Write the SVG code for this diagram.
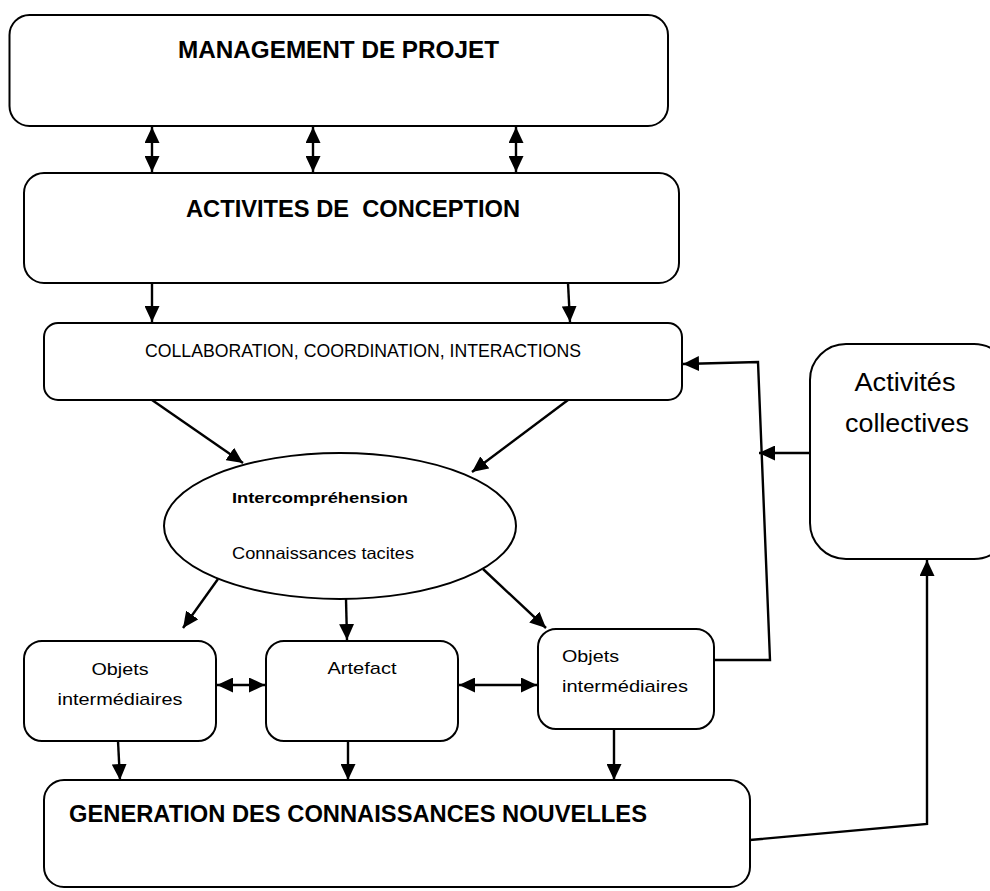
<svg xmlns="http://www.w3.org/2000/svg" width="990" height="891" viewBox="0 0 990 891">
<style>
.box{fill:#fff;stroke:#000;stroke-width:2}
.c{fill:none;stroke:#000;stroke-width:2.4}
.t{font-family:"Liberation Sans",Arial,sans-serif;fill:#000}
.b{font-weight:bold}
</style>
<defs>
<marker id="ah" viewBox="0 0 10 10" refX="10" refY="5" markerWidth="16" markerHeight="15" markerUnits="userSpaceOnUse" orient="auto-start-reverse" preserveAspectRatio="none">
<path d="M0,0 L10,5 L0,10 z" fill="#000"/>
</marker>
</defs>
<rect width="990" height="891" fill="#fff"/>

<g id="management">
<rect class="box" x="9.5" y="15" width="658.5" height="111" rx="20"/>
<text class="t b" x="178" y="58" font-size="23" textLength="321" lengthAdjust="spacingAndGlyphs">MANAGEMENT DE PROJET</text>
</g>

<g id="activites-conception">
<rect class="box" x="24" y="173" width="655" height="110" rx="20"/>
<text class="t b" x="186" y="217" font-size="23" textLength="334" lengthAdjust="spacingAndGlyphs" xml:space="preserve">ACTIVITES DE  CONCEPTION</text>
</g>

<g id="collaboration">
<rect class="box" x="44" y="323" width="638" height="77" rx="14"/>
<text class="t" x="145" y="357" font-size="18" textLength="436" lengthAdjust="spacingAndGlyphs">COLLABORATION, COORDINATION, INTERACTIONS</text>
</g>

<g id="activites-collectives">
<rect class="box" x="810" y="344" width="200" height="215" rx="36"/>
<text class="t" x="905" y="391" font-size="25" text-anchor="middle" textLength="101" lengthAdjust="spacingAndGlyphs">Activités</text>
<text class="t" x="907" y="432" font-size="25" text-anchor="middle" textLength="124" lengthAdjust="spacingAndGlyphs">collectives</text>
</g>

<g id="intercomprehension">
<ellipse class="box" cx="340" cy="526" rx="176" ry="73"/>
<text class="t b" x="232" y="503" font-size="15.5" textLength="176" lengthAdjust="spacingAndGlyphs">Intercompréhension</text>
<text class="t" x="232" y="559" font-size="16.5" textLength="182" lengthAdjust="spacingAndGlyphs">Connaissances tacites</text>
</g>

<g id="objets-gauche">
<rect class="box" x="24" y="641" width="192" height="100" rx="18"/>
<text class="t" x="120" y="675" font-size="17" text-anchor="middle" textLength="57" lengthAdjust="spacingAndGlyphs">Objets</text>
<text class="t" x="120" y="705" font-size="17" text-anchor="middle" textLength="125" lengthAdjust="spacingAndGlyphs">intermédiaires</text>
</g>

<g id="artefact">
<rect class="box" x="266" y="641" width="192" height="100" rx="18"/>
<text class="t" x="362" y="674" font-size="17" text-anchor="middle" textLength="69" lengthAdjust="spacingAndGlyphs">Artefact</text>
</g>

<g id="objets-droite">
<rect class="box" x="538" y="629" width="176" height="100" rx="18"/>
<text class="t" x="562" y="662" font-size="17" textLength="57" lengthAdjust="spacingAndGlyphs">Objets</text>
<text class="t" x="562" y="692" font-size="17" textLength="126" lengthAdjust="spacingAndGlyphs">intermédiaires</text>
</g>

<g id="generation">
<rect class="box" x="44" y="780" width="706" height="107" rx="20"/>
<text class="t b" x="69" y="822" font-size="23" textLength="578" lengthAdjust="spacingAndGlyphs">GENERATION DES CONNAISSANCES NOUVELLES</text>
</g>

<g id="connectors">
<line class="c" x1="152" y1="127" x2="152" y2="172" marker-start="url(#ah)" marker-end="url(#ah)"/>
<line class="c" x1="313" y1="127" x2="313" y2="172" marker-start="url(#ah)" marker-end="url(#ah)"/>
<line class="c" x1="516" y1="127" x2="516" y2="172" marker-start="url(#ah)" marker-end="url(#ah)"/>
<line class="c" x1="152" y1="283" x2="152" y2="322" marker-end="url(#ah)"/>
<line class="c" x1="568" y1="283" x2="570" y2="322" marker-end="url(#ah)"/>
<line class="c" x1="152" y1="400" x2="243" y2="463" marker-end="url(#ah)"/>
<line class="c" x1="568" y1="400" x2="472" y2="472" marker-end="url(#ah)"/>
<line class="c" x1="218" y1="579" x2="183" y2="628" marker-end="url(#ah)"/>
<line class="c" x1="346" y1="599" x2="347" y2="640" marker-end="url(#ah)"/>
<line class="c" x1="483" y1="569" x2="546" y2="628" marker-end="url(#ah)"/>
<line class="c" x1="217" y1="685" x2="265" y2="685" marker-start="url(#ah)" marker-end="url(#ah)"/>
<line class="c" x1="459" y1="685" x2="537" y2="685" marker-start="url(#ah)" marker-end="url(#ah)"/>
<line class="c" x1="118" y1="741" x2="120" y2="780" marker-end="url(#ah)"/>
<line class="c" x1="348" y1="741" x2="348" y2="780" marker-end="url(#ah)"/>
<line class="c" x1="614" y1="729" x2="614" y2="780" marker-end="url(#ah)"/>
<polyline class="c" stroke-width="1.8" points="714,660 770,660 758,362 683,364" marker-end="url(#ah)"/>
<line class="c" x1="810" y1="453" x2="759" y2="453" marker-end="url(#ah)"/>
<polyline class="c" stroke-width="1.8" points="750,840 927,824 927,560" marker-end="url(#ah)"/>
</g>
</svg>
